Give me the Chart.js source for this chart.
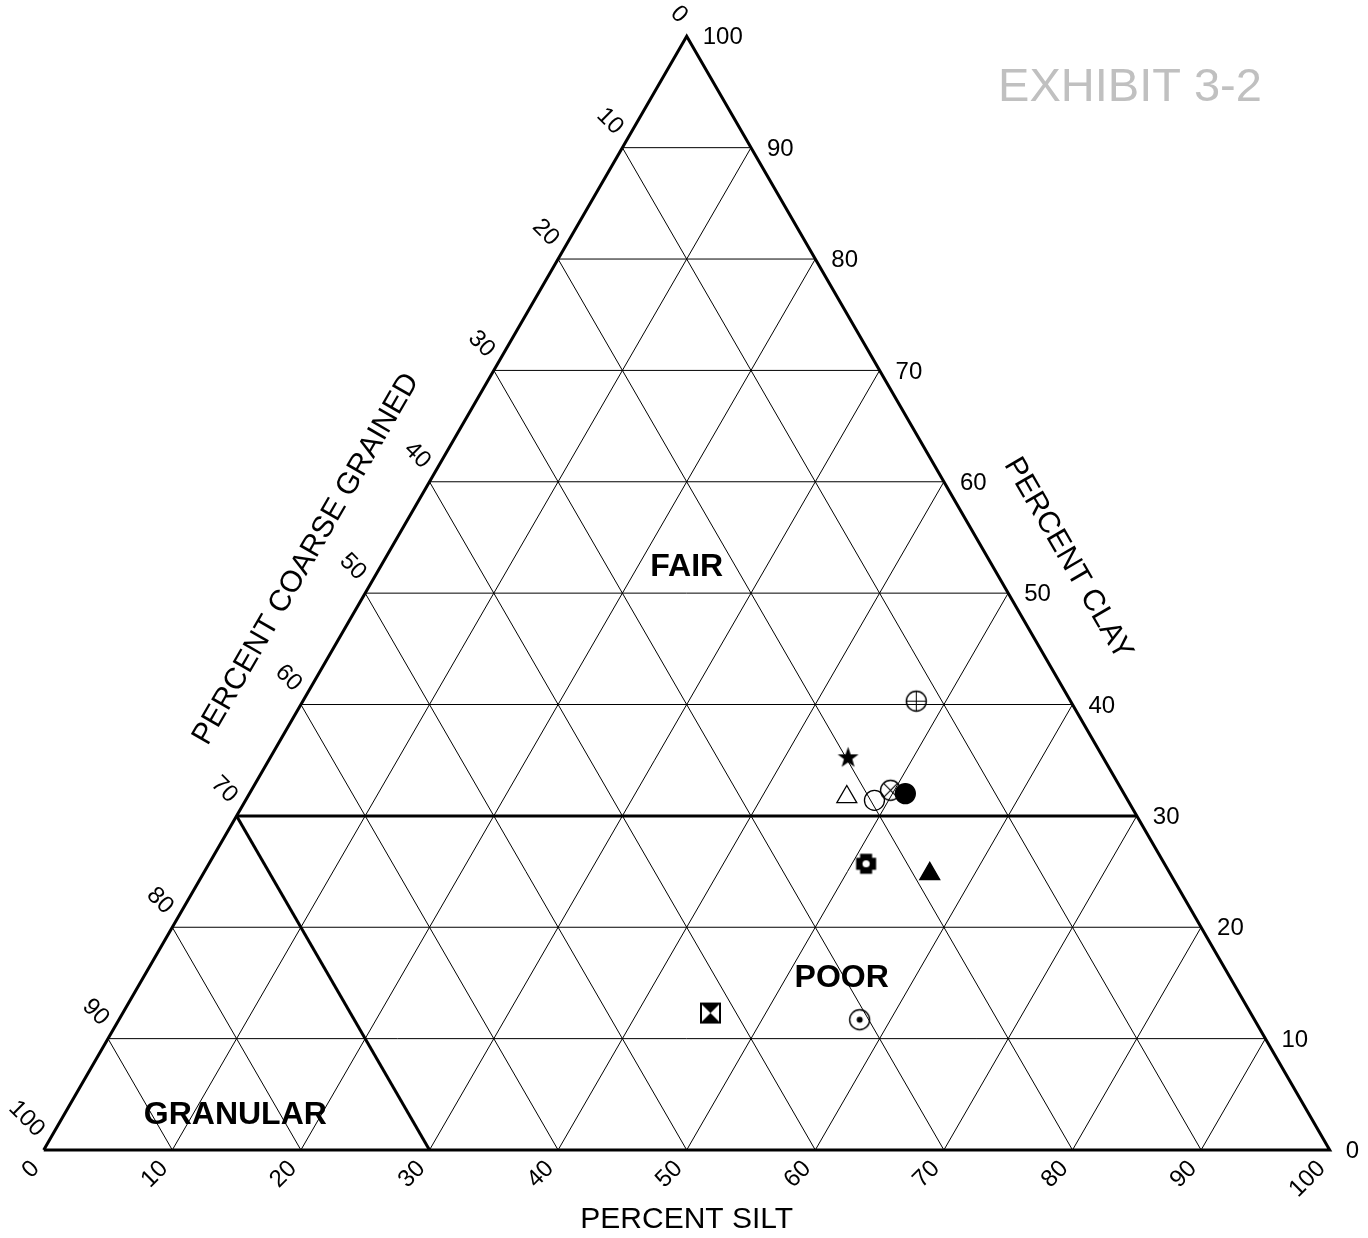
<!DOCTYPE html>
<html>
<head>
<meta charset="utf-8">
<script src="https://cdn.jsdelivr.net/npm/chart.js@4.4.1/dist/chart.umd.min.js"></script>
<style>
  html, body { margin: 0; padding: 0; background: #ffffff; }
  #wrap { width: 1368px; height: 1238px; position: relative; }
</style>
</head>
<body>
<div id="wrap"><canvas id="c" width="1368" height="1238"></canvas></div>
<script>
// ---------- DATA ----------
const sampleClay   = [40.3, 35.3, 31.7, 31.4, 32.3, 32.0, 25.7, 24.8, 11.7, 12.3];
const sampleSilt   = [47.7, 44.9, 46.6, 48.9, 49.7, 51.0, 51.1, 56.5, 57.6, 45.7];
const sampleCoarse = [12.0, 19.8, 21.7, 19.7, 18.0, 17.0, 23.2, 18.7, 30.7, 42.0];
const sampleMarker = ['circlePlus', 'starFilled', 'triangleOpen', 'circleOpen', 'circleCross',
                      'circleFilled', 'crossHole', 'triangleFilled', 'circleDot', 'hourglass'];

const gridTicks  = [10, 20, 30, 40, 50, 60, 70, 80, 90];
const clayTicks  = [0, 10, 20, 30, 40, 50, 60, 70, 80, 90, 100];
const siltTicks  = [0, 10, 20, 30, 40, 50, 60, 70, 80, 90, 100];
const coarseTicks= [0, 10, 20, 30, 40, 50, 60, 70, 80, 90, 100];

const fairPoorClay = 30;      // boundary: percent clay
const granularCoarse = 70;    // boundary: percent coarse grained

const regionNames = ['FAIR', 'POOR', 'GRANULAR'];
const regionSilt  = [23.8, 54.3, 13.3];
const regionClay  = [52.4, 15.5, 3.2];

const axisTitles = { silt: 'PERCENT SILT', clay: 'PERCENT CLAY', coarse: 'PERCENT COARSE GRAINED' };
const exhibitText = 'EXHIBIT 3-2';

// ---------- helpers ----------
// ternary (silt, clay) -> cartesian data units (x, y)
function T(silt, clay) { return { x: silt + clay / 2, y: clay }; }

function makeMarker(size, draw) {
  const c = document.createElement('canvas');
  c.width = size; c.height = size;
  const ctx = c.getContext('2d');
  ctx.translate(size / 2, size / 2);
  ctx.strokeStyle = '#000'; ctx.fillStyle = '#000'; ctx.lineWidth = 1.4;
  draw(ctx);
  return c;
}
const R = 10;
const markerStyles = {
  circlePlus: makeMarker(25, ctx => {
    ctx.beginPath(); ctx.arc(0, 0, R, 0, Math.PI * 2); ctx.stroke();
    ctx.lineWidth = 1;
    ctx.beginPath(); ctx.moveTo(-R, 0); ctx.lineTo(R, 0); ctx.moveTo(0, -R); ctx.lineTo(0, R); ctx.stroke();
  }),
  circleCross: makeMarker(25, ctx => {
    ctx.beginPath(); ctx.arc(0, 0, R, 0, Math.PI * 2); ctx.stroke();
    const d = R * Math.SQRT1_2;
    ctx.lineWidth = 1.2;
    ctx.beginPath(); ctx.moveTo(-d, -d); ctx.lineTo(d, d); ctx.moveTo(d, -d); ctx.lineTo(-d, d); ctx.stroke();
  }),
  circleDot: makeMarker(25, ctx => {
    ctx.beginPath(); ctx.arc(0, 0, R, 0, Math.PI * 2); ctx.stroke();
    ctx.beginPath(); ctx.arc(0, 0, 3, 0, Math.PI * 2); ctx.fill();
  }),
  starFilled: makeMarker(25, ctx => {
    ctx.beginPath();
    for (let i = 0; i < 10; i++) {
      const r = i % 2 === 0 ? 11 : 4.4;
      const a = -Math.PI / 2 + i * Math.PI / 5;
      const px = Math.cos(a) * r, py = Math.sin(a) * r + 1;
      if (i === 0) ctx.moveTo(px, py); else ctx.lineTo(px, py);
    }
    ctx.closePath(); ctx.fill();
  }),
  crossHole: makeMarker(25, ctx => {
    ctx.fillRect(-10, -6, 20, 12);
    ctx.fillRect(-6, -10, 12, 20);
    ctx.fillStyle = '#fff';
    ctx.beginPath(); ctx.arc(0, 0, 3.6, 0, Math.PI * 2); ctx.fill();
  }),
  hourglass: makeMarker(25, ctx => {
    ctx.fillStyle = '#fff'; ctx.fillRect(-10, -10, 20, 20);
    ctx.fillStyle = '#000';
    ctx.beginPath(); ctx.moveTo(-10, -10); ctx.lineTo(10, -10); ctx.lineTo(0, 0); ctx.closePath(); ctx.fill();
    ctx.beginPath(); ctx.moveTo(-10, 10); ctx.lineTo(10, 10); ctx.lineTo(0, 0); ctx.closePath(); ctx.fill();
    ctx.lineWidth = 2; ctx.strokeRect(-9.5, -9.5, 19, 19);
  })
};
const builtin = {
  triangleOpen:   { style: 'triangle', radius: 11.5, fill: 'rgba(0,0,0,0)' },
  triangleFilled: { style: 'triangle', radius: 11.5, fill: '#000' },
  circleOpen:     { style: 'circle',   radius: 10, fill: 'rgba(0,0,0,0)' },
  circleFilled:   { style: 'circle',   radius: 10, fill: '#000' }
};

// ---------- datasets ----------
const datasets = [];

// samples
datasets.push({
  label: 'samples',
  data: sampleClay.map((c, i) => T(sampleSilt[i], c)),
  showLine: false,
  pointStyle: sampleMarker.map(m => builtin[m] ? builtin[m].style : markerStyles[m]),
  pointRadius: sampleMarker.map(m => builtin[m] ? builtin[m].radius : 10),
  pointBackgroundColor: sampleMarker.map(m => builtin[m] ? builtin[m].fill : '#000'),
  pointBorderColor: '#000',
  pointBorderWidth: 1.3,
  clip: false,
  order: 0
});

function lineDS(pts, width, order) {
  return { data: pts, showLine: true, borderColor: '#000', borderWidth: width,
           pointRadius: 0, fill: false, tension: 0, clip: false, order: order };
}
// thin grid lines
gridTicks.forEach(v => {
  datasets.push(lineDS([T(0, v), T(100 - v, v)], 1, 3));          // constant clay
  datasets.push(lineDS([T(v, 0), T(v, 100 - v)], 1, 3));          // constant silt
  datasets.push(lineDS([T(100 - v, 0), T(0, 100 - v)], 1, 3));    // constant coarse
});
// region boundaries
datasets.push(lineDS([T(0, fairPoorClay), T(100 - fairPoorClay, fairPoorClay)], 3, 2));
datasets.push(lineDS([T(100 - granularCoarse, 0), T(0, 100 - granularCoarse)], 3, 2));
// outer triangle
datasets.push(lineDS([T(0, 0), T(100, 0), T(0, 100), T(0, 0)], 3, 1));

// ---------- text plugin ----------
const FONT = '"Liberation Sans", Arial, Helvetica, sans-serif';
const textPlugin = {
  id: 'ternaryText',
  afterDraw(chart) {
    const ctx = chart.ctx, xs = chart.scales.x, ys = chart.scales.y;
    const P = (silt, clay) => { const t = T(silt, clay); return { x: xs.getPixelForValue(t.x), y: ys.getPixelForValue(t.y) }; };
    ctx.save();
    ctx.fillStyle = '#000';
    ctx.font = '24px ' + FONT;
    ctx.textBaseline = 'middle';

    // clay (right edge)
    ctx.textAlign = 'left';
    clayTicks.forEach(c => { const p = P(100 - c, c); ctx.fillText(String(c), p.x + 16, p.y + 1.5); });

    // silt (bottom)
    siltTicks.forEach(s => {
      const p = P(s, 0);
      ctx.save(); ctx.translate(p.x - 8, p.y + 15); ctx.rotate(-Math.PI / 4);
      ctx.textAlign = 'right'; ctx.fillText(String(s), 0, 0); ctx.restore();
    });

    // coarse (left edge)
    coarseTicks.forEach(c => {
      const p = P(0, 100 - c);
      ctx.save(); ctx.translate(p.x - 3, p.y - 17); ctx.rotate(Math.PI / 4);
      ctx.textAlign = 'right'; ctx.fillText(String(c), 0, 0); ctx.restore();
    });

    // axis titles
    ctx.font = '30px ' + FONT;
    ctx.textAlign = 'center';
    const bm = P(50, 0);
    ctx.fillText(axisTitles.silt, bm.x, bm.y + 70);
    const rm = P(50, 50);
    ctx.save(); ctx.translate(rm.x + 69 * Math.cos(Math.PI / 6), rm.y - 69 * 0.5); ctx.rotate(Math.PI / 3);
    ctx.fillText(axisTitles.clay, 0, 0); ctx.restore();
    const lm = P(0, 50);
    ctx.save(); ctx.translate(lm.x - 68 * Math.cos(Math.PI / 6), lm.y - 68 * 0.5); ctx.rotate(-Math.PI / 3);
    ctx.fillText(axisTitles.coarse, 0, 0); ctx.restore();

    // region labels
    ctx.font = 'bold 32px ' + FONT;
    regionNames.forEach((n, i) => { const p = P(regionSilt[i], regionClay[i]); ctx.fillText(n, p.x, p.y + 1); });

    // exhibit
    ctx.font = '47px ' + FONT;
    ctx.fillStyle = '#c0c0c0';
    ctx.fillText(exhibitText, 1130, 88);
    ctx.restore();
  }
};

new Chart(document.getElementById('c'), {
  type: 'scatter',
  data: { datasets },
  options: {
    responsive: false,
    animation: false,
    events: [],
    layout: { padding: { left: 43.7, right: 38.3, top: 36.3, bottom: 88 } },
    plugins: { legend: { display: false }, tooltip: { enabled: false }, title: { display: false } },
    scales: {
      x: { type: 'linear', min: 0, max: 100, display: false },
      y: { type: 'linear', min: 0, max: 100, display: false }
    }
  },
  plugins: [textPlugin]
});
</script>
</body>
</html>
